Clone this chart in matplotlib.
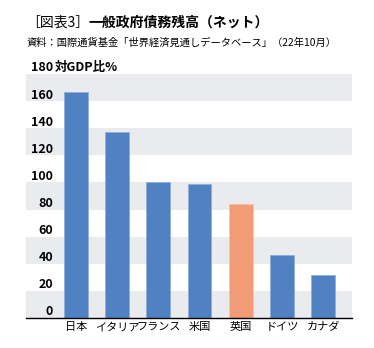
import matplotlib
matplotlib.use('Agg')
import matplotlib.pyplot as plt
import numpy as np
from matplotlib.transforms import blended_transform_factory

plt.rcParams['font.family'] = ['Noto Sans CJK JP', 'DejaVu Sans']

countries = ['日本', 'イタリア', 'フランス', '米国', '英国', 'ドイツ', 'カナダ']
net_debt = [167, 137.5, 100.5, 99, 84, 46.5, 31.5]
bar_colors = ['#4f81c3', '#4f81c3', '#4f81c3', '#4f81c3', '#f29c77', '#4f81c3', '#4f81c3']
y_ticks = [0, 20, 40, 60, 80, 100, 120, 140, 160, 180]

W, H = 374, 348
fig = plt.figure(figsize=(W / 100, H / 100), dpi=100)
fig.patch.set_facecolor('white')

# plot area in pixels: left 26, right 352, top 74, bottom 318
ax = fig.add_axes([26 / W, (H - 318) / H, 326 / W, (318 - 74) / H])
ax.set_xlim(-1.21, 6.7)
ax.set_ylim(0, 180)

# alternating horizontal bands
for lo in range(0, 180, 40):
    ax.axhspan(lo, lo + 20, color='#e9ebee', lw=0, zorder=0)

x = np.arange(len(countries))
edge = ['#8fb0dc' if c == '#4f81c3' else '#f7c2a8' for c in bar_colors]
ax.bar(x, net_debt, width=0.575, color=bar_colors, edgecolor=edge, linewidth=0.6, zorder=2)

for s in ['top', 'right', 'left']:
    ax.spines[s].set_visible(False)
ax.spines['bottom'].set_color('black')
ax.spines['bottom'].set_linewidth(1.0)
ax.spines['bottom'].set_zorder(3)
ax.set_yticks([])
ax.set_xticks(x)
ax.set_xticklabels(countries, fontsize=8)
ax.tick_params(axis='x', length=0, pad=3)

# y tick labels drawn inside plot, slightly above gridline values
tr = blended_transform_factory(fig.transFigure, ax.transData)
for v in y_ticks:
    ax.text(53 / W, v + 4.5, str(v), transform=tr, ha='right', va='center',
            fontsize=9, fontweight='bold', clip_on=False, zorder=4)
ax.text(54.5 / W, 180 + 4.5, '対GDP比%', transform=tr, ha='left', va='center',
        fontsize=9, fontweight='bold', clip_on=False)

# titles
fig.text(26 / W, 1 - 23 / H, '［図表3］', fontsize=10, ha='left', va='center')
fig.text(88 / W, 1 - 23 / H, '一般政府債務残高（ネット）', fontsize=10,
         fontweight='bold', ha='left', va='center')
fig.text(27 / W, 1 - 43 / H, '資料：国際通貨基金「世界経済見通しデータベース」（22年10月）',
         fontsize=7.4, ha='left', va='center')

fig.savefig('out.png', dpi=100, facecolor='white')
